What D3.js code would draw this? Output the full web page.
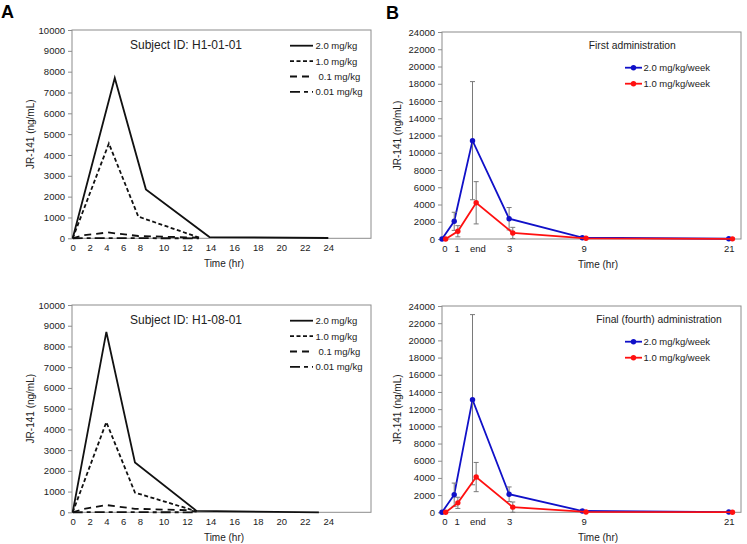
<!DOCTYPE html>
<html lang="en">
<head>
<meta charset="UTF-8">
<title>JR-141 concentration</title>
<script src="https://d3js.org/d3.v7.min.js"></script>
<style>
  body { margin: 0; background: #fff; }
  svg { font-family: "Liberation Sans", Arial, sans-serif; }
</style>
</head>
<body>
<svg id="grafico" width="747" height="544"></svg>
<script>
// ---- panel A data: [hour, ng/mL] ----
const aTicks = [0, 2, 4, 6, 8, 10, 12, 14, 16, 18, 20, 22, 24];
const aDoses = ["2.0 mg/kg", "1.0 mg/kg", "0.1 mg/kg", "0.01 mg/kg"];

const s1_20  = [[0, 0], [5.0, 7700], [8.5, 2350], [13.9, 60], [24, 15]];
const s1_10  = [[0, 0], [4.3, 4550], [7.8, 1040], [13.1, 20]];
const s1_01  = [[0, 0], [1.3, 150], [4.2, 280], [7.8, 110], [13, 30]];
const s1_001 = [[0, 0], [1.3, 5], [4.2, 10], [7.8, 5], [13, 0]];

const s2_20  = [[0, 0], [4.0, 8700], [7.4, 2400], [12.8, 70], [23.2, 0]];
const s2_10  = [[0, 0], [4.0, 4350], [7.4, 950], [12.8, 50]];
const s2_01  = [[0, 0], [1.2, 150], [4.0, 350], [7.4, 170], [12, 100], [12.8, 30]];
const s2_001 = [[0, 0], [4.0, 10], [7.4, 5], [12.8, 0]];

// ---- panel B data ----
const bTimes = [0, 1, 2.5, 5.5, 11.5, 23.5];          // hours, blue series
const bTimesRed = [0.3, 1.3, 2.8, 5.8, 11.8, 23.8];   // red series, shifted a bit
const bTickHours = [0.2, 1.2, 2.9, 5.5, 11.6, 23.5];
const bTickLabels = ["0", "1", "end", "3", "9", "21"];
const bDoses = ["2.0 mg/kg/week", "1.0 mg/kg/week"];

const first20    = [0, 2050, 11400, 2350, 150, 30];
const first20Err = [0, 1050, 6850, 1300, 0, 0];
const first10    = [0, 900, 4200, 700, 80, 20];
const first10Err = [0, 650, 2450, 650, 0, 0];

const final20    = [0, 2050, 13100, 2100, 150, 30];
const final20Err = [0, 1350, 9900, 850, 0, 0];
const final10    = [0, 1100, 4100, 600, 40, 10];
const final10Err = [0, 650, 1700, 600, 0, 0];

const svg = d3.select("#grafico");
svg.append("rect").attr("width", 747).attr("height", 544).attr("fill", "#fff");

const frameColor = "#8c8c8c";
const textColor = "#222";

function estiloEixo(eixo) {
  eixo.select(".domain").remove();
  eixo.selectAll("line").attr("stroke", frameColor);
  eixo.selectAll("text")
    .attr("fill", textColor)
    .attr("font-size", 9.5)
    .attr("font-family", "Liberation Sans, Arial, sans-serif");
}

function moldura(g, w, h, yMax, yStep) {
  const y = d3.scaleLinear().domain([0, yMax]).range([h, 0]);
  g.append("rect")
    .attr("x", 0).attr("y", 0).attr("width", w).attr("height", h)
    .attr("fill", "none").attr("stroke", frameColor).attr("stroke-width", 1);
  const eixoY = g.append("g")
    .call(d3.axisLeft(y).tickValues(d3.range(0, yMax + 1, yStep))
      .tickSize(4).tickPadding(3).tickFormat(d3.format("d")));
  estiloEixo(eixoY);
  return y;
}

function titulos(g, w, h, cx, yTitleX) {
  g.append("text")
    .attr("x", cx).attr("y", h + 28.5)
    .attr("text-anchor", "middle").attr("font-size", 10).attr("fill", textColor)
    .text("Time (hr)");
  g.append("text")
    .attr("transform", `translate(${yTitleX},${h / 2}) rotate(-90)`)
    .attr("text-anchor", "middle").attr("font-size", 10).attr("fill", textColor)
    .text("JR-141 (ng/mL)");
}

const dashes = [null, "4,2.5", "7,5", "10,4,4,4"];

function painelA(left, top, h, subject, series) {
  const w = 299;
  const g = svg.append("g").attr("transform", `translate(${left},${top})`);
  const y = moldura(g, w, h, 10000, 1000);
  const x = d3.scaleLinear().domain([0, 8, 24]).range([0.7, 68, 256.3]);

  const eixoX = g.append("g")
    .attr("transform", `translate(0,${h})`)
    .call(d3.axisBottom(x).tickValues(aTicks).tickSize(0).tickPadding(6));
  estiloEixo(eixoX);

  const linha = d3.line().x(d => x(d[0])).y(d => y(d[1]));
  series.forEach((s, i) => {
    g.append("path")
      .datum(s)
      .attr("d", linha)
      .attr("fill", "none")
      .attr("stroke", "#111")
      .attr("stroke-width", 1.8)
      .attr("stroke-dasharray", dashes[i]);
  });

  g.append("text")
    .attr("x", 114).attr("y", 19)
    .attr("text-anchor", "middle").attr("font-size", 12).attr("fill", textColor)
    .text(subject);

  // legenda
  aDoses.forEach((d, i) => {
    const ly = 15.7 + i * 15.4;
    g.append("line")
      .attr("x1", 218).attr("x2", 241).attr("y1", ly).attr("y2", ly)
      .attr("stroke", "#111").attr("stroke-width", 1.8)
      .attr("stroke-dasharray", dashes[i]);
    g.append("text")
      .attr("x", i === 2 ? 246.5 : 243.5).attr("y", ly + 3.4)
      .attr("font-size", 9.5).attr("fill", textColor)
      .text(d);
  });

  titulos(g, w, h, 152, -38.5);
}

function painelB(left, top, h, title, titleX, s20, e20, s10, e10) {
  const w = 299;
  const g = svg.append("g").attr("transform", `translate(${left},${top})`);
  const y = moldura(g, w, h, 24000, 2000);
  const x = d3.scaleLinear().domain([0, 24.5]).range([0, w]);

  const eixoX = g.append("g")
    .attr("transform", `translate(0,${h})`)
    .call(d3.axisBottom(x).tickValues(bTickHours).tickSize(0).tickPadding(6)
      .tickFormat((d, i) => bTickLabels[i]));
  estiloEixo(eixoX);

  const grupos = [
    { times: bTimes, vals: s20, errs: e20, cor: "#1010c8" },
    { times: bTimesRed, vals: s10, errs: e10, cor: "#ff1010" }
  ];
  const linha = d3.line().x(d => x(d[0])).y(d => y(d[1]));

  grupos.forEach(gr => {
    const pts = gr.times.map((t, i) => [t, gr.vals[i], gr.errs[i]]);
    g.append("path")
      .datum(pts)
      .attr("d", linha)
      .attr("fill", "none").attr("stroke", gr.cor).attr("stroke-width", 1.8);

    const barras = pts.filter(p => p[2] > 0);
    const eb = g.append("g").attr("stroke", "#7a7a7a").attr("stroke-width", 1);
    eb.selectAll(".v").data(barras).enter().append("line")
      .attr("x1", d => x(d[0])).attr("x2", d => x(d[0]))
      .attr("y1", d => y(d[1] + d[2])).attr("y2", d => y(Math.max(0, d[1] - d[2])));
    eb.selectAll(".t").data(barras).enter().append("line")
      .attr("x1", d => x(d[0]) - 2.5).attr("x2", d => x(d[0]) + 2.5)
      .attr("y1", d => y(d[1] + d[2])).attr("y2", d => y(d[1] + d[2]));
    eb.selectAll(".b").data(barras).enter().append("line")
      .attr("x1", d => x(d[0]) - 2.5).attr("x2", d => x(d[0]) + 2.5)
      .attr("y1", d => y(Math.max(0, d[1] - d[2]))).attr("y2", d => y(Math.max(0, d[1] - d[2])));

    g.selectAll(null).data(pts).enter().append("circle")
      .attr("cx", d => x(d[0])).attr("cy", d => y(d[1]))
      .attr("r", 2.7).attr("fill", gr.cor);
  });

  g.append("text")
    .attr("x", titleX).attr("y", 16.5)
    .attr("text-anchor", "middle").attr("font-size", 10.3).attr("fill", textColor)
    .text(title);

  bDoses.forEach((d, i) => {
    const ly = 35.7 + i * 16;
    const cor = grupos[i].cor;
    g.append("line")
      .attr("x1", 183).attr("x2", 200).attr("y1", ly).attr("y2", ly)
      .attr("stroke", cor).attr("stroke-width", 1.8);
    g.append("circle").attr("cx", 191.5).attr("cy", ly).attr("r", 2.7).attr("fill", cor);
    g.append("text")
      .attr("x", 201.5).attr("y", ly + 3.4)
      .attr("font-size", 9.5).attr("fill", textColor)
      .text(d);
  });

  titulos(g, w, h, 156, -41);
}

painelA(72, 30, 208.3, "Subject ID: H1-01-01", [s1_20, s1_10, s1_01, s1_001]);
painelA(72, 305, 207.3, "Subject ID: H1-08-01", [s2_20, s2_10, s2_01, s2_001]);
painelB(442, 32, 207, "First administration", 190.3, first20, first20Err, first10, first10Err);
painelB(442, 306, 206.3, "Final (fourth) administration", 217, final20, final20Err, final10, final10Err);

// letras dos painéis
svg.append("text").attr("x", 1).attr("y", 18)
  .attr("font-size", 18).attr("font-weight", "bold").attr("fill", "#000").text("A");
svg.append("text").attr("x", 386).attr("y", 19)
  .attr("font-size", 18).attr("font-weight", "bold").attr("fill", "#000").text("B");
</script>
</body>
</html>
